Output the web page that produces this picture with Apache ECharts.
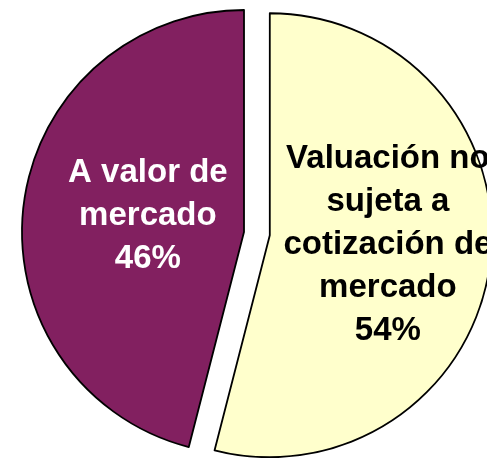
<!DOCTYPE html>
<html>
<head>
    <meta charset="utf-8">
    <title>ECharts</title>
    <style>
        html, body { margin: 0; padding: 0; background: #fff; }
    </style>
</head>
<body>
<div id="main" style="width: 487px;height:458px;"></div>
<script src="https://cdn.jsdelivr.net/npm/echarts@6/dist/echarts.min.js"></script>
<script type="text/javascript">
    // datos del gráfico
    var categories = ['Valuación no\nsujeta a\ncotización de\nmercado', 'A valor de\nmercado'];
    var values = [54, 46];
    var colors = ['#FFFFCC', '#822060'];
    var labelColors = ['#000000', '#FFFFFF'];
    var labelShift = [[5, -5], [17, -2]];

    var myChart = echarts.init(document.getElementById('main'));

    var data = categories.map(function (name, i) {
        return {
            name: name,
            value: values[i],
            selected: i === 0,
            itemStyle: { color: colors[i] },
            label: { color: labelColors[i] }
        };
    });

    myChart.setOption({
        animation: false,
        series: [{
            type: 'pie',
            center: [244, 232],
            radius: 222,
            startAngle: 90,
            clockwise: true,
            selectedMode: 'single',
            selectedOffset: 26,
            avoidLabelOverlap: false,
            itemStyle: {
                borderColor: '#000',
                borderWidth: 1.8
            },
            emphasis: { disabled: true },
            label: {
                show: true,
                position: 'inside',
                fontFamily: 'Liberation Sans, Arial, sans-serif',
                fontWeight: 'bold',
                fontSize: 33,
                lineHeight: 43,
                align: 'center',
                formatter: function (p) {
                    return p.name + '\n' + p.value + '%';
                }
            },
            labelLayout: function (p) {
                return { dx: labelShift[p.dataIndex][0], dy: labelShift[p.dataIndex][1] };
            },
            labelLine: { show: false },
            data: data
        }]
    });
</script>
</body>
</html>
